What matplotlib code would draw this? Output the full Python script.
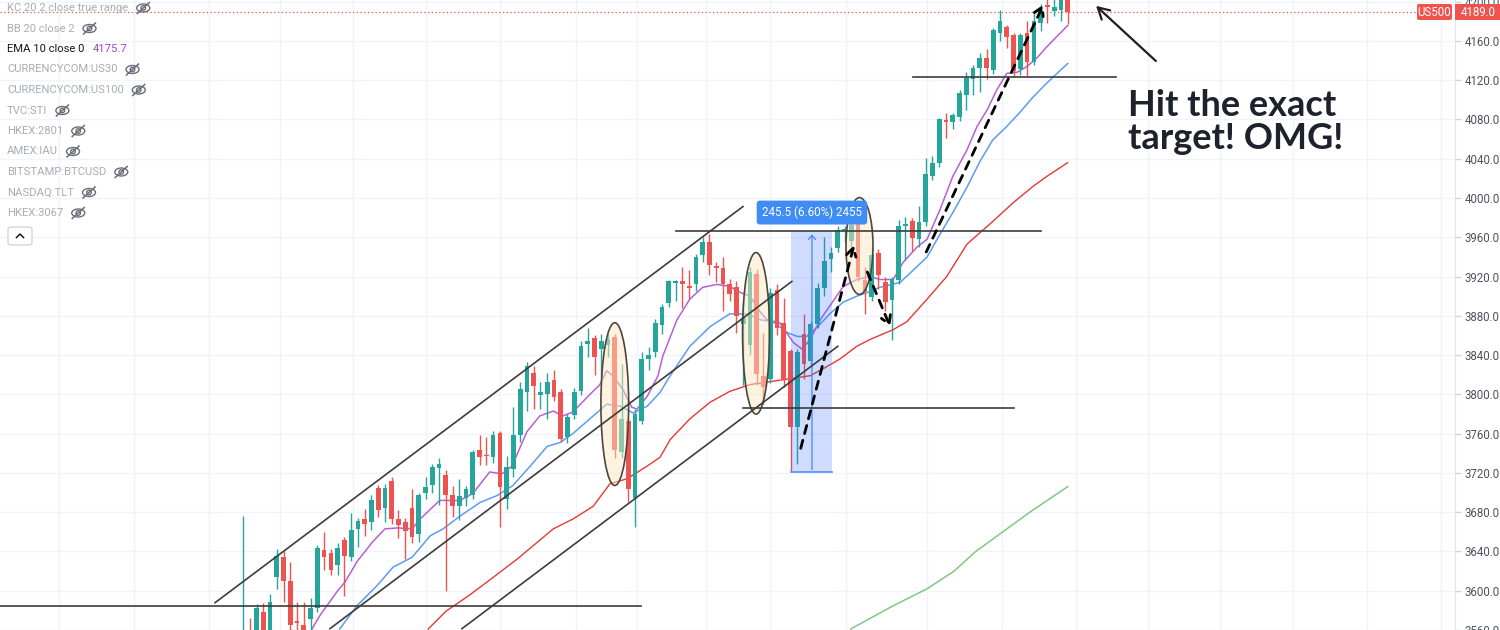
import matplotlib
matplotlib.use("Agg")
import matplotlib.pyplot as plt
from matplotlib.patches import Ellipse, Rectangle, FancyBboxPatch
from matplotlib.lines import Line2D

W, H = 1500, 630

# daily candles US500, oldest first
opens = [3548, 3560, 3545, 3578, 3555, 3614, 3634, 3610, 3569, 3565,
         3571, 3582, 3641, 3638, 3626, 3652, 3634, 3663, 3673, 3670,
         3705, 3684, 3712, 3673, 3670, 3684, 3658, 3700, 3708, 3725,
         3718, 3697, 3686, 3694, 3697, 3743, 3738, 3736, 3761, 3693,
         3724, 3759, 3802, 3822, 3799, 3800, 3815, 3802, 3757, 3779,
         3803, 3851, 3857, 3846, 3850, 3858, 3741, 3773, 3694, 3773,
         3836, 3843, 3871, 3893, 3913, 3915, 3910, 3912, 3942, 3955,
         3931, 3929, 3912, 3909, 3872, 3850, 3923, 3819, 3816, 3906,
         3873, 3844, 3767, 3861, 3834, 3872, 3908, 3938, 3949, 3966,
         3956, 3978, 3916, 3899, 3944, 3914, 3896, 3917, 3971, 3977,
         3958, 3976, 4022, 4036, 4079, 4077, 4083, 4105, 4121, 4132,
         4143, 4130, 4168, 4174, 4166, 4131, 4168, 4139, 4178, 4197,
         4190, 4192, 4210]
highs = [3676, 3572, 3586, 3587, 3597, 3643, 3640, 3629, 3589, 3589,
         3593, 3647, 3660, 3643, 3649, 3655, 3679, 3674, 3683, 3698,
         3708, 3709, 3716, 3682, 3674, 3704, 3700, 3716, 3729, 3735,
         3723, 3707, 3714, 3707, 3743, 3759, 3757, 3763, 3763, 3737,
         3787, 3813, 3833, 3829, 3813, 3822, 3825, 3805, 3780, 3806,
         3854, 3868, 3860, 3861, 3862, 3862, 3831, 3776, 3785, 3843,
         3848, 3877, 3892, 3917, 3917, 3930, 3927, 3943, 3960, 3963,
         3935, 3940, 3918, 3915, 3895, 3930, 3928, 3863, 3908, 3912,
         3898, 3846, 3846, 3882, 3875, 3913, 3960, 3950, 3971, 3972,
         3985, 3985, 3930, 3950, 3948, 3920, 3920, 3978, 3981, 3980,
         3992, 4041, 4043, 4082, 4087, 4087, 4110, 4128, 4136, 4148,
         4152, 4173, 4192, 4176, 4168, 4168, 4180, 4189, 4198, 4205,
         4205, 4210, 4215]
lows = [3530, 3535, 3538, 3548, 3550, 3602, 3589, 3555, 3550, 3545,
        3558, 3578, 3621, 3616, 3616, 3595, 3630, 3645, 3656, 3662,
        3675, 3670, 3668, 3654, 3632, 3649, 3650, 3693, 3700, 3687,
        3600, 3675, 3672, 3686, 3693, 3728, 3728, 3730, 3665, 3683,
        3716, 3752, 3783, 3785, 3785, 3775, 3793, 3752, 3750, 3775,
        3799, 3838, 3820, 3819, 3838, 3735, 3735, 3690, 3665, 3770,
        3825, 3838, 3862, 3889, 3895, 3888, 3897, 3905, 3935, 3922,
        3914, 3885, 3895, 3863, 3810, 3840, 3810, 3790, 3812, 3860,
        3808, 3722, 3729, 3816, 3830, 3868, 3900, 3925, 3945, 3955,
        3950, 3915, 3882, 3895, 3907, 3885, 3855, 3912, 3937, 3946,
        3950, 3972, 4018, 4032, 4061, 4070, 4078, 4090, 4105, 4108,
        4121, 4126, 4160, 4153, 4123, 4125, 4124, 4135, 4170, 4178,
        4185, 4180, 4177]
closes = [3555, 3545, 3582, 3555, 3589, 3635, 3610, 3565, 3567, 3555,
          3582, 3644, 3634, 3621, 3644, 3635, 3662, 3671, 3668, 3692,
          3682, 3705, 3673, 3667, 3661, 3655, 3698, 3706, 3726, 3729,
          3697, 3686, 3696, 3704, 3741, 3736, 3737, 3759, 3706, 3726,
          3759, 3805, 3829, 3809, 3802, 3813, 3797, 3755, 3777, 3802,
          3849, 3854, 3838, 3854, 3856, 3743, 3775, 3704, 3780, 3836,
          3840, 3873, 3889, 3915, 3915, 3912, 3908, 3940, 3955, 3932,
          3929, 3912, 3902, 3880, 3878, 3925, 3821, 3808, 3903, 3868,
          3816, 3767, 3843, 3831, 3872, 3908, 3936, 3944, 3967, 3968,
          3973, 3920, 3905, 3942, 3922, 3894, 3918, 3971, 3974, 3959,
          3976, 4024, 4036, 4080, 4077, 4085, 4107, 4122, 4132, 4143,
          4132, 4171, 4180, 4164, 4129, 4166, 4139, 4180, 4190, 4195,
          4195, 4205, 4189]

# moving averages (bar index, price)
ema10_x = [10.2, 11.4, 13.9, 15.1, 16.9, 19.2, 21.0, 22.9, 25.0, 26.2, 29.1, 32.1, 34.0, 36.5,
           38.3, 39.8, 42.0, 43.9, 45.9, 47.3, 48.8, 50.9, 52.8, 53.8, 54.7, 56.2, 57.5, 58.3,
           59.8, 61.4, 62.1, 64.2, 66.1, 68.0, 70.1, 72.0, 73.5, 75.0, 76.5, 77.5, 79.4, 81.4,
           82.7, 83.9, 85.4, 86.8, 88.8, 90.8, 92.8, 94.2, 96.2, 97.6, 99.7, 101.2, 103.1, 105.0,
           107.1, 108.6, 110.1, 111.5, 113.0, 114.5, 116.0, 117.5, 118.9, 120.9, 122.0]
ema10_y = [3561, 3575, 3599, 3609, 3630, 3650, 3663, 3664, 3663, 3673, 3692, 3692, 3699, 3721,
           3719, 3727, 3762, 3778, 3783, 3778, 3782, 3797, 3810, 3824, 3819, 3805, 3787, 3785,
           3798, 3819, 3839, 3876, 3897, 3909, 3912, 3910, 3904, 3900, 3884, 3876, 3873, 3853,
           3846, 3856, 3876, 3890, 3910, 3917, 3920, 3917, 3917, 3934, 3950, 3958, 3988, 4022,
           4049, 4073, 4090, 4110, 4127, 4128, 4134, 4143, 4154, 4168, 4175.7]

ema20_x = [14.3, 16.9, 19.8, 22.2, 25.0, 27.7, 29.6, 32.1, 35.1, 37.6, 39.9, 42.5, 45.0, 46.9,
           48.8, 51.3, 53.8, 55.8, 57.7, 59.8, 61.7, 63.2, 66.1, 69.1, 72.0, 74.6, 76.5, 78.4,
           80.5, 82.0, 83.4, 84.9, 86.8, 88.8, 90.8, 92.8, 94.2, 97.2, 99.7, 101.2, 103.1, 105.0,
           107.1, 109.0, 110.9, 113.0, 114.9, 116.9, 118.9, 120.9, 122.0]
ema20_y = [3561, 3585, 3605, 3624, 3634, 3656, 3663, 3676, 3690, 3697, 3707, 3727, 3747, 3751,
           3760, 3775, 3790, 3788, 3781, 3788, 3802, 3819, 3849, 3869, 3882, 3882, 3876, 3874,
           3863, 3859, 3859, 3868, 3882, 3894, 3900, 3905, 3909, 3914, 3930, 3940, 3963, 3985,
           4011, 4037, 4059, 4073, 4087, 4103, 4117, 4130, 4137]

ema50_x = [27.4, 30.0, 33.4, 36.7, 40.7, 45.9, 48.8, 51.8, 54.3, 56.8, 59.8, 61.7, 63.2, 66.1,
           69.1, 72.0, 75.0, 78.0, 80.9, 83.9, 85.8, 88.3, 90.8, 92.8, 96.2, 98.2, 101.2, 104.1,
           107.1, 110.9, 113.9, 116.9, 118.9, 122.0]
ema50_y = [3561, 3579, 3595, 3612, 3633, 3663, 3673, 3686, 3709, 3714, 3727, 3736, 3754, 3775,
           3792, 3803, 3810, 3813, 3816, 3819, 3826, 3836, 3849, 3856, 3866, 3874, 3897, 3920,
           3953, 3976, 3995, 4012, 4022, 4036]

ema200_x = [89.9, 96.0, 101.2, 105.2, 108.4, 112.4, 116.4, 122.0]
ema200_y = [3561, 3584, 3602, 3620, 3640, 3660, 3680, 3706]

legend_items = ["KC 20 2 close true range", "BB 20 close 2", "EMA 10 close 0",
                "CURRENCYCOM:US30", "CURRENCYCOM:US100", "TVC:STI", "HKEX:2801",
                "AMEX:IAU", "BITSTAMP:BTCUSD", "NASDAQ:TLT", "HKEX:3067"]
last_price = 4189.0
ema10_last = 4175.7
move_pts, move_pct, move_ticks = 245.5, 6.60, 2455

UP, DOWN = "#26a69a", "#ef5350"
plt.rcParams['font.family'] = ['Roboto', 'DejaVu Sans']

fig = plt.figure(figsize=(W / 100, H / 100), dpi=100)
ax = fig.add_axes([0, 0, 1455 / W, 1])
ax.set_xlim(-35.95, 179.3)
ax.set_ylim(3561.4, 4201.7)

# grid
for gx in [-27.2, -16.1, -5.0, 5.5, 16.3, 27.1, 38.0, 49.3, 58.3, 68.5, 77.9, 89.2,
           101.2, 112.3, 123.2, 133.9, 144.5, 155.3, 166.3, 177.2]:
    ax.axvline(gx, color="#f0f3fa", lw=1, zorder=0)
ticks = list(range(3560, 4201, 40))
for gy in ticks:
    ax.axhline(gy, color="#f0f3fa", lw=1, zorder=0)

# moving averages
ax.plot(ema200_x, ema200_y, color="#81c784", lw=1.1, zorder=2)
ax.plot(ema50_x, ema50_y, color="#e53935", lw=1.0, zorder=2)
ax.plot(ema20_x, ema20_y, color="#5b9cf6", lw=1.1, zorder=2)
ax.plot(ema10_x, ema10_y, color="#b660d6", lw=1.1, zorder=2)

# candles
n = len(opens)
for i in range(n):
    c = UP if closes[i] >= opens[i] else DOWN
    ax.vlines(i, lows[i], highs[i], color=c, lw=1, zorder=3)
    lo = min(opens[i], closes[i])
    hi = max(opens[i], closes[i])
    ax.bar(i, max(hi - lo, 1.2), bottom=lo, width=0.7, color=c, zorder=3, lw=0)

# last price line
ax.axhline(last_price, xmax=1415 / 1455, color=DOWN, lw=0.9, ls=(0, (1, 2)), zorder=2)

# channel and levels
line_kw = dict(color="#3c3c3c", lw=1.2, zorder=5)
ax.plot([-4.14, 73.96], [3587.8, 3991.3], **line_kw)
ax.plot([12.87, 81.2], [3561.4, 3915.1], **line_kw)
ax.plot([32.4, 88.0], [3561.4, 3849.0], **line_kw)
ax.plot([-35.95, 58.9], [3584.8, 3584.8], **line_kw)
ax.plot([64.05, 118.0], [3966.4, 3966.4], **line_kw)
ax.plot([73.96, 114.05], [3786.5, 3786.5], **line_kw)
ax.plot([99.1, 129.1], [4123.4, 4123.4], **line_kw)

# highlighted zones
for cx, cy, ew, eh in [(55.0, 3790.1, 4.1, 165.7), (75.9, 3862.2, 4.0, 164.6), (91.2, 3951.1, 4.0, 98.6)]:
    ax.add_patch(Ellipse((cx, cy), ew, eh, fc=(0.99, 0.91, 0.76, 0.5), ec="#4d463c", lw=1.2, zorder=4))

# price range measure
ax.add_patch(Rectangle((81.07, 3720.5), 6.06, move_pts, fc="#2962ff", alpha=0.22, lw=0, zorder=4))
ax.plot([81.07, 87.13], [3720.5, 3720.5], color="#4f8ff7", lw=1.2, zorder=4)
ax.annotate("", xy=(84.17, 3966.0), xytext=(84.17, 3720.5),
            arrowprops=dict(arrowstyle="->,head_length=0.3,head_width=0.25", color="#4f8ff7", lw=1), zorder=4)
ax.text(84.17, 3985.2, f"{move_pts} ({move_pct:.2f}%) {move_ticks}", color="white", fontsize=8.4,
        ha="center", va="center", zorder=6,
        bbox=dict(boxstyle="round,pad=0.45,rounding_size=0.25", fc="#3f8cf5", ec="none"))

# dashed path arrows
dash_kw = dict(color="black", lw=2, ls=(0, (3, 2.5)))
ax.annotate("", xy=(90.5, 3954.7), xytext=(82.4, 3742.3),
            arrowprops=dict(arrowstyle="->,head_length=0.6,head_width=0.35", **dash_kw), zorder=6)
ax.annotate("", xy=(95.9, 3866.3), xytext=(92.2, 3927.3),
            arrowprops=dict(arrowstyle="->,head_length=0.6,head_width=0.35", **dash_kw), zorder=6)
ax.annotate("", xy=(118.6, 4199.6), xytext=(100.9, 3942.5),
            arrowprops=dict(arrowstyle="->,head_length=0.6,head_width=0.35", **dash_kw), zorder=6)

# callout
ax.annotate("", xy=(125.9, 4197.6), xytext=(135.35, 4137.6),
            arrowprops=dict(arrowstyle="->,head_length=0.8,head_width=0.45", color="#1e1e1e", lw=1.6), zorder=6)
ax.text(130.9, 4083.5, "Hit the exact", fontsize=26, fontweight="bold", family=["Lato", "DejaVu Sans"],
        color="#1e222d", ha="left", va="baseline", zorder=6)
ax.text(130.9, 4049.5, "target! OMG!", fontsize=26, fontweight="bold", family=["Lato", "DejaVu Sans"],
        color="#1e222d", ha="left", va="baseline", zorder=6)

# price scale
ax.yaxis.tick_right()
ax.set_yticks(ticks)
ax.set_yticklabels([f"{t:.1f}" for t in ticks])
ax.tick_params(axis="y", length=4, width=1, color="#d1d4dc", pad=3, labelsize=8.3, labelcolor="#4c525e")
ax.set_xticks([])
for s in ["top", "left", "bottom"]:
    ax.spines[s].set_visible(False)
ax.spines["right"].set_color("#e0e3eb")


def fx(x):
    return x / W


def fy(y):
    return 1 - y / H


# last price tags
fig.add_artist(FancyBboxPatch((fx(1417), fy(20)), 35 / W, 16 / H, boxstyle="round,pad=0,rounding_size=0.002",
                              transform=fig.transFigure, fc=DOWN, ec="none", zorder=10))
fig.text(fx(1434.5), fy(12), "US500", color="white", fontsize=8.3, ha="center", va="center", zorder=11)
fig.add_artist(Rectangle((fx(1455), fy(20)), 45 / W, 16 / H, transform=fig.transFigure, fc=DOWN, ec="none", zorder=10))
fig.text(fx(1478), fy(12), f"{last_price:.1f}", color="white", fontsize=8.3, ha="center", va="center", zorder=11)

# legend
renderer = fig.canvas.get_renderer()
icon_c = "#6a6d78"


def eye(cx, cy):
    fig.add_artist(Ellipse((fx(cx), fy(cy)), 13 / W, 8 / H, transform=fig.transFigure, fill=False, ec=icon_c, lw=1))
    fig.add_artist(Ellipse((fx(cx), fy(cy)), 4.5 / W, 4.5 / H, transform=fig.transFigure, fill=False, ec=icon_c, lw=1))
    fig.add_artist(Line2D([fx(cx - 6), fx(cx + 6)], [fy(cy + 5.5), fy(cy - 5.5)], transform=fig.transFigure,
                          color=icon_c, lw=1.1))


for k, name in enumerate(legend_items):
    y = 8 + k * 20.5
    if name.startswith("EMA"):
        t = fig.text(fx(7), fy(y), name, color="#131722", fontsize=8.1, va="center")
        bb = t.get_window_extent(renderer)
        fig.text(fx(bb.x1 + 8), fy(y), f"{ema10_last}", color="#a443c4", fontsize=8.1, va="center")
    else:
        t = fig.text(fx(7), fy(y), name, color="#a9acb5", fontsize=8.1, va="center")
        bb = t.get_window_extent(renderer)
        eye(bb.x1 + 15, y)

fig.add_artist(FancyBboxPatch((fx(8), fy(245)), 24 / W, 18 / H, boxstyle="round,pad=0,rounding_size=0.003",
                              transform=fig.transFigure, fc="white", ec="#d1d4dc", lw=1))
fig.add_artist(Line2D([fx(16.5), fx(20), fx(23.5)], [fy(237.5), fy(234), fy(237.5)], transform=fig.transFigure,
                      color="#131722", lw=1.1))

fig.savefig("out.png", dpi=100)
